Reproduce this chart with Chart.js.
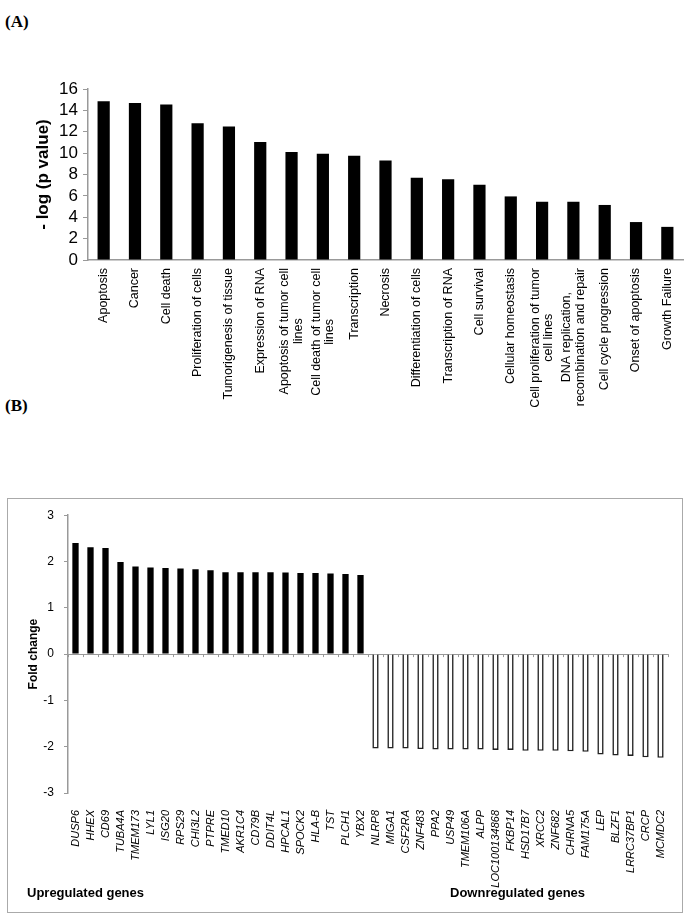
<!DOCTYPE html>
<html>
<head>
<meta charset="utf-8">
<script src="https://cdn.jsdelivr.net/npm/chart.js@4.4.0/dist/chart.umd.min.js"></script>
<style>
  body { margin: 0; background: #fff; width: 690px; height: 914px; position: relative; overflow: hidden; }
  .panel { position: absolute; left: 5px; font: bold 17px "Liberation Serif", "Times New Roman", serif; }
  #wrapA { position: absolute; left: 0; top: 0; width: 690px; height: 460px; }
  #wrapB { position: absolute; left: 0; top: 498px; width: 690px; height: 416px; }
  #boxB { position: absolute; left: 7px; top: 498px; width: 674px; height: 413px; border: 1px solid #aaa; }
  .group { position: absolute; top: 885px; font: bold 13px "Liberation Sans", Arial, sans-serif; }
</style>
</head>
<body>
<div class="panel" style="top:12px">(A)</div>
<div class="panel" style="top:396px">(B)</div>
<div id="boxB"></div>
<div id="wrapA"><canvas id="chartA"></canvas></div>
<div id="wrapB"><canvas id="chartB"></canvas></div>
<div class="group" style="left:27px">Upregulated genes</div>
<div class="group" style="left:450px">Downregulated genes</div>

<script>
// (A) fonctions enrichies
const functionLabels = [
  "Apoptosis", "Cancer", "Cell death", "Proliferation of cells", "Tumorigenesis of tissue",
  "Expression of RNA", ["Apoptosis of tumor cell", "lines"], ["Cell death of tumor cell", "lines"],
  "Transcription", "Necrosis", "Differentiation of cells", "Transcription of RNA", "Cell survival",
  "Cellular homeostasis", ["Cell proliferation of tumor", "cell lines"],
  ["DNA replication,", "recombination and repair"], "Cell cycle progression", "Onset of apoptosis",
  "Growth Failure"
];
const logPValues = [14.85, 14.7, 14.55, 12.8, 12.5, 11.05, 10.1, 9.95, 9.75, 9.3,
                    7.7, 7.55, 7.05, 5.95, 5.45, 5.45, 5.15, 3.55, 3.1];
const logPTicks = [0, 2, 4, 6, 8, 10, 12, 14, 16];

// (B) genes
const upGenes = ["DUSP6", "HHEX", "CD69", "TUBA4A", "TMEM173", "LYL1", "ISG20", "RPS29", "CHI3L2", "PTPRE",
                 "TMED10", "AKR1C4", "CD79B", "DDIT4L", "HPCAL1", "SPOCK2", "HLA-B", "TST", "PLCH1", "YBX2"];
const upValues = [2.40, 2.31, 2.29, 1.99, 1.89, 1.87, 1.86, 1.85, 1.83, 1.81,
                  1.77, 1.77, 1.77, 1.77, 1.76, 1.75, 1.75, 1.74, 1.73, 1.71];
const downGenes = ["NLRP8", "MIGA1", "CSF2RA", "ZNF483", "PPA2", "USP49", "TMEM106A", "ALPP", "LOC100134868", "FKBP14",
                   "HSD17B7", "XRCC2", "ZNF682", "CHRNA5", "FAM175A", "LEP", "BLZF1", "LRRC37BP1", "CRCP", "MCMDC2"];
const downValues = [-2.04, -2.04, -2.04, -2.05, -2.06, -2.06, -2.06, -2.06, -2.07, -2.07,
                    -2.09, -2.09, -2.09, -2.10, -2.11, -2.17, -2.19, -2.20, -2.23, -2.24];
const foldTicks = [-3, -2, -1, 0, 1, 2, 3];

Chart.defaults.font.family = '"Liberation Sans", Arial, sans-serif';
Chart.defaults.color = '#000';
Chart.defaults.animation = false;

const axisGray = '#999';

// étiquettes verticales, lignes centrées comme dans Excel
const centeredLabels = {
  id: 'centeredLabels',
  afterDraw(chart) {
    const x = chart.scales.x;
    const ctx = chart.ctx;
    const size = 12.5, lh = 13.5, pad = 8;
    ctx.save();
    ctx.font = size + 'px "Liberation Sans", Arial, sans-serif';
    ctx.fillStyle = '#000';
    ctx.textAlign = 'center';
    ctx.textBaseline = 'middle';
    chart.data.labels.forEach((lab, i) => {
      const lines = Array.isArray(lab) ? lab : [lab];
      const w = Math.max(...lines.map(l => ctx.measureText(l).width));
      const px = x.getPixelForTick(i);
      ctx.save();
      ctx.translate(px, x.top + pad + w / 2);
      ctx.rotate(-Math.PI / 2);
      lines.forEach((l, j) => ctx.fillText(l, 0, (j - (lines.length - 1) / 2) * lh));
      ctx.restore();
    });
    ctx.restore();
  }
};

new Chart(document.getElementById('chartA'), {
  type: 'bar',
  data: {
    labels: functionLabels,
    datasets: [{ data: logPValues, backgroundColor: '#000', barPercentage: 0.39, categoryPercentage: 1 }]
  },
  options: {
    responsive: true,
    maintainAspectRatio: false,
    layout: { padding: { top: 89, right: 7, left: 0, bottom: 10 } },
    plugins: { legend: { display: false }, tooltip: { enabled: false } },
    scales: {
      x: {
        grid: { display: false },
        border: { color: axisGray, width: 1.5 },
        ticks: { display: false },
        afterFit: s => { s.height = 190; }
      },
      y: {
        min: 0, max: 16,
        afterBuildTicks: s => { s.ticks = logPTicks.map(v => ({ value: v })); },
        grid: { drawOnChartArea: false, tickLength: 5, color: axisGray },
        border: { color: axisGray, width: 1.5 },
        ticks: { autoSkip: false, padding: 5, font: { size: 17 } },
        title: { display: true, text: '- log (p value)', font: { size: 17, weight: 'bold' }, padding: { top: 33 } },
        afterFit: s => { s.width = 88; }
      }
    }
  },
  plugins: [centeredLabels]
});

// petites graduations sur la ligne du zéro
const zeroTicks = {
  id: 'zeroTicks',
  afterDatasetsDraw(chart) {
    const x = chart.scales.x, y = chart.scales.y;
    const y0 = y.getPixelForValue(0);
    const half = (x.getPixelForValue(1) - x.getPixelForValue(0)) / 2;
    const ctx = chart.ctx;
    ctx.save();
    ctx.strokeStyle = axisGray;
    ctx.lineWidth = 1;
    ctx.beginPath();
    for (let i = 0; i <= x.ticks.length; i++) {
      const px = Math.round(x.getPixelForValue(i) - half) + 0.5;
      ctx.moveTo(px, y0);
      ctx.lineTo(px, y0 + 3);
    }
    ctx.stroke();
    ctx.restore();
  }
};

const geneValues = upValues.concat(downValues);

new Chart(document.getElementById('chartB'), {
  type: 'bar',
  data: {
    labels: upGenes.concat(downGenes),
    datasets: [{
      data: geneValues,
      backgroundColor: ctx => ctx.raw >= 0 ? '#000' : '#fff',
      borderColor: '#222',
      borderWidth: ctx => ctx.raw >= 0 ? 0 : 1.6,
      barPercentage: 0.42,
      categoryPercentage: 1
    }]
  },
  options: {
    responsive: true,
    maintainAspectRatio: false,
    layout: { padding: { top: 15, right: 22, left: 0, bottom: 21 } },
    plugins: { legend: { display: false }, tooltip: { enabled: false } },
    scales: {
      x: {
        grid: { display: false },
        border: { display: false },
        ticks: { autoSkip: false, minRotation: 90, maxRotation: 90, padding: 9, font: { size: 11, style: 'italic' } },
        afterFit: s => { s.height = 100; }
      },
      y: {
        min: -3, max: 3,
        afterBuildTicks: s => { s.ticks = foldTicks.map(v => ({ value: v })); },
        grid: {
          drawOnChartArea: true,
          color: ctx => ctx.tick && ctx.tick.value === 0 ? axisGray : 'rgba(0,0,0,0)',
          tickColor: axisGray,
          tickLength: 4
        },
        border: { color: axisGray, width: 1.5 },
        ticks: { autoSkip: false, padding: 10, font: { size: 12 } },
        title: { display: true, text: 'Fold change', font: { size: 12, weight: 'bold' }, padding: { top: 26 } },
        afterFit: s => { s.width = 68; }
      }
    }
  },
  plugins: [zeroTicks]
});
</script>
</body>
</html>
